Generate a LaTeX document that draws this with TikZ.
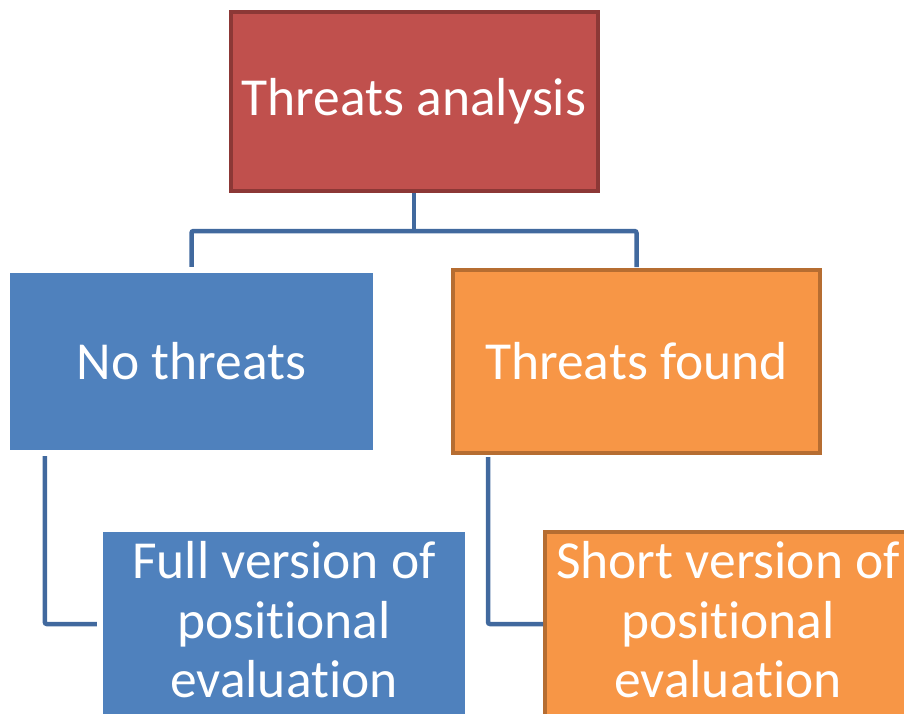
\documentclass[tikz,border=0pt]{standalone}
\usepackage{fontspec}
\setmainfont[Ligatures=NoCommon]{Carlito}
\usepackage{tikz}
\usetikzlibrary{calc}
\usetikzlibrary{positioning}
\definecolor{boxred}{RGB}{192, 80, 77}
\definecolor{edgered}{RGB}{140, 56, 54}
\definecolor{boxblue}{RGB}{79, 129, 189}
\definecolor{boxorange}{RGB}{247, 150, 70}
\definecolor{edgeorange}{RGB}{182, 109, 49}
\definecolor{linkblue}{RGB}{65, 105, 158}

\begin{document}
\begin{tikzpicture}[x=1pt, y=-1pt,
    box/.style={rectangle, text=white, align=center, inner sep=0pt,
                font=\fontsize{53.5}{59.5}\selectfont},
    redbox/.style={box, fill=boxred, draw=edgered, line width=4pt},
    bluebox/.style={box, fill=boxblue},
    orangebox/.style={box, fill=boxorange, draw=edgeorange, line width=4pt},
    link/.style={draw=linkblue, line width=4.5pt, rounded corners=2pt}]
    \useasboundingbox (0,0) rectangle (904,713);
    \clip (0,0) rectangle (904,713);
    % top level
    \node[redbox,    minimum width=367pt, minimum height=179pt] (analysis) at (414,101.5) {Threats analysis};
    % second level
    \node[bluebox,   minimum width=363pt, minimum height=177pt] (nothreats) at (191.5,361.5) {No threats};
    \node[orangebox, minimum width=367pt, minimum height=183pt] (found)     at (636.5,361.5) {Threats found};
    % third level
    \node[bluebox,   minimum width=362pt, minimum height=190pt] (fullver)  at (284,627) {};
    \node[orangebox, minimum width=366pt, minimum height=190pt] (shortver) at (728,627) {};
    \node[box] (fulltext)  at (284,620) {Full version of\\positional\\evaluation};
    \node[box] (shorttext) at (728,620) {Short version of\\positional\\evaluation};
    % connectors
    \coordinate (split) at ($(analysis.south)+(0,-38pt)$);
    \draw[link] (analysis.south) -- (split);
    \draw[link] ([yshift=6pt]nothreats.north) |- (split) -| ([yshift=1pt]found.north);
    \draw[link] ([xshift=35pt, yshift=-6pt]nothreats.south west) |- ([xshift=-6pt, yshift=3pt]fullver.west);
    \draw[link] ([xshift=37pt, yshift=-2pt]found.south west) |- ([yshift=3pt]shortver.west);
\end{tikzpicture}
\end{document}
